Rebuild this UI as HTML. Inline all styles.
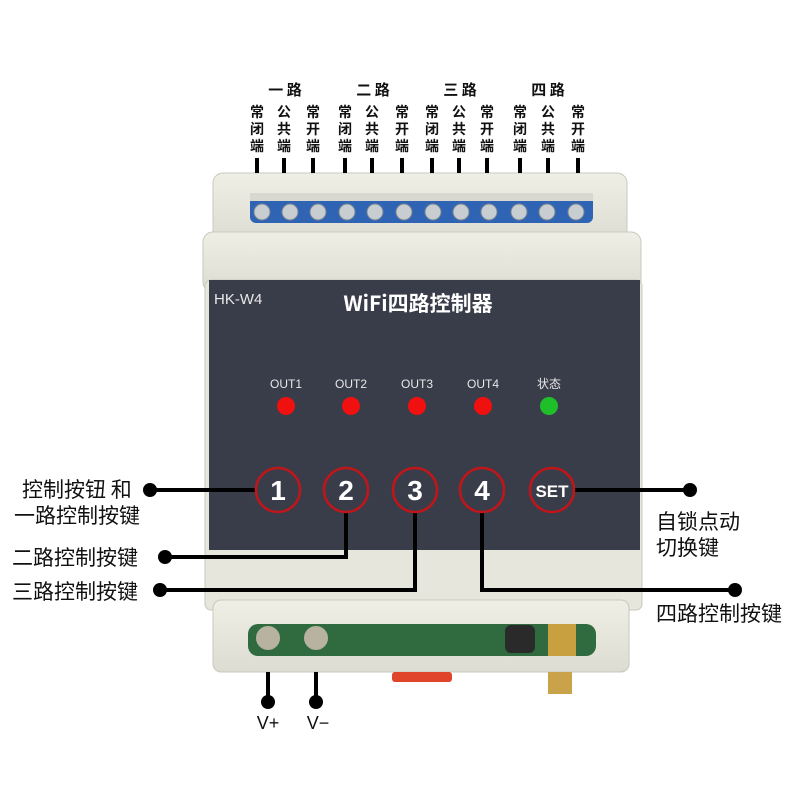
<!DOCTYPE html>
<html><head><meta charset="utf-8"><style>
body{margin:0;background:#fff;width:800px;height:800px;overflow:hidden;font-family:"Liberation Sans","Noto Sans CJK SC",sans-serif}
svg{display:block}
.cj{font-family:"Noto Sans CJK SC","WenQuanYi Zen Hei",sans-serif}
</style></head><body>
<svg width="800" height="800" viewBox="0 0 800 800" xmlns="http://www.w3.org/2000/svg">
<defs>
<linearGradient id="g" x1="0" y1="0" x2="0" y2="1"><stop offset="0" stop-color="#efefe6"/><stop offset="1" stop-color="#dcdcd2"/></linearGradient>
</defs>
<rect x="213" y="173" width="414" height="70" rx="10" fill="url(#g)" stroke="#c8c8be"/>
<rect x="250" y="193" width="343" height="30" rx="6" fill="#2f64b4"/>
<rect x="250" y="193" width="343" height="8" fill="#d8d8d0"/>
<g fill="#c8cdd2" stroke="#7b8692">
<circle cx="262" cy="212" r="8"/><circle cx="290" cy="212" r="8"/><circle cx="318" cy="212" r="8"/><circle cx="347" cy="212" r="8"/><circle cx="375" cy="212" r="8"/><circle cx="404" cy="212" r="8"/><circle cx="433" cy="212" r="8"/><circle cx="461" cy="212" r="8"/><circle cx="489" cy="212" r="8"/><circle cx="519" cy="212" r="8"/><circle cx="547" cy="212" r="8"/><circle cx="576" cy="212" r="8"/>
</g>
<rect x="203" y="232" width="438" height="60" rx="10" fill="url(#g)" stroke="#c8c8be"/>
<rect x="205" y="280" width="437" height="330" rx="6" fill="#e6e6dc" stroke="#c8c8be"/>
<rect x="209" y="280" width="431" height="270" fill="#393c49"/>
<rect x="213" y="600" width="416" height="72" rx="8" fill="url(#g)" stroke="#c8c8be"/>
<rect x="248" y="624" width="348" height="32" rx="10" fill="#2f6b3e"/>
<circle cx="268" cy="638" r="12" fill="#b8b2a0"/><circle cx="316" cy="638" r="12" fill="#b8b2a0"/>
<rect x="505" y="625" width="30" height="28" rx="6" fill="#2a2a2a"/>
<rect x="548" y="624" width="28" height="32" fill="#c8a040"/>
<rect x="548" y="672" width="24" height="22" fill="#c9a24a"/>
<rect x="392" y="672" width="60" height="10" rx="3" fill="#e0442a"/>
<g class="cj" font-size="15" font-weight="bold" fill="#111" text-anchor="middle">
<text x="285" y="95">一 路</text><text x="373" y="95">二 路</text><text x="460" y="95">三 路</text><text x="548" y="95">四 路</text>
</g>
<g class="cj" font-size="14" font-weight="bold" fill="#111" text-anchor="middle">
<text x="257" y="117">常</text><text x="257" y="134">闭</text><text x="257" y="151">端</text>
<text x="284" y="117">公</text><text x="284" y="134">共</text><text x="284" y="151">端</text>
<text x="313" y="117">常</text><text x="313" y="134">开</text><text x="313" y="151">端</text>
<text x="345" y="117">常</text><text x="345" y="134">闭</text><text x="345" y="151">端</text>
<text x="372" y="117">公</text><text x="372" y="134">共</text><text x="372" y="151">端</text>
<text x="402" y="117">常</text><text x="402" y="134">开</text><text x="402" y="151">端</text>
<text x="432" y="117">常</text><text x="432" y="134">闭</text><text x="432" y="151">端</text>
<text x="459" y="117">公</text><text x="459" y="134">共</text><text x="459" y="151">端</text>
<text x="487" y="117">常</text><text x="487" y="134">开</text><text x="487" y="151">端</text>
<text x="520" y="117">常</text><text x="520" y="134">闭</text><text x="520" y="151">端</text>
<text x="548" y="117">公</text><text x="548" y="134">共</text><text x="548" y="151">端</text>
<text x="578" y="117">常</text><text x="578" y="134">开</text><text x="578" y="151">端</text>
</g>
<g stroke="#000" stroke-width="4">
<line x1="257" y1="158" x2="257" y2="173"/><line x1="284" y1="158" x2="284" y2="173"/><line x1="313" y1="158" x2="313" y2="173"/>
<line x1="345" y1="158" x2="345" y2="173"/><line x1="372" y1="158" x2="372" y2="173"/><line x1="402" y1="158" x2="402" y2="173"/>
<line x1="432" y1="158" x2="432" y2="173"/><line x1="459" y1="158" x2="459" y2="173"/><line x1="487" y1="158" x2="487" y2="173"/>
<line x1="520" y1="158" x2="520" y2="173"/><line x1="548" y1="158" x2="548" y2="173"/><line x1="578" y1="158" x2="578" y2="173"/>
</g>
<text x="214" y="304" font-size="15" fill="#e8e8e8">HK-W4</text>
<text x="418" y="311" font-size="21" font-weight="bold" fill="#fff" text-anchor="middle" class="cj">WiFi四路控制器</text>
<g font-size="12" fill="#e8e8e8" text-anchor="middle">
<text x="286" y="388">OUT1</text><text x="351" y="388">OUT2</text><text x="417" y="388">OUT3</text><text x="483" y="388">OUT4</text><text x="549" y="388" class="cj">状态</text>
</g>
<g fill="#f01010"><circle cx="286" cy="406" r="9"/><circle cx="351" cy="406" r="9"/><circle cx="417" cy="406" r="9"/><circle cx="483" cy="406" r="9"/></g>
<circle cx="549" cy="406" r="9" fill="#1fbf2a"/>
<g stroke="#000" stroke-width="4" fill="none">
<polyline points="150,490 256,490"/>
<polyline points="346,512 346,557 165,557"/>
<polyline points="415,512 415,590 160,590"/>
<polyline points="482,512 482,590 735,590"/>
<polyline points="574,490 690,490"/>
<line x1="268" y1="672" x2="268" y2="700"/><line x1="316" y1="672" x2="316" y2="700"/>
</g>
<g fill="#000">
<circle cx="150" cy="490" r="7"/><circle cx="165" cy="557" r="7"/><circle cx="160" cy="590" r="7"/><circle cx="735" cy="590" r="7"/><circle cx="690" cy="490" r="7"/>
<circle cx="268" cy="702" r="7"/><circle cx="316" cy="702" r="7"/>
</g>
<g fill="#393c49" stroke="#c0161a" stroke-width="2.5">
<circle cx="278" cy="490" r="22"/><circle cx="346" cy="490" r="22"/><circle cx="415" cy="490" r="22"/><circle cx="482" cy="490" r="22"/><circle cx="552" cy="490" r="22"/>
</g>
<g fill="#fff" font-size="28" font-weight="bold" text-anchor="middle">
<text x="278" y="500">1</text><text x="346" y="500">2</text><text x="415" y="500">3</text><text x="482" y="500">4</text>
<text x="552" y="497" font-size="17">SET</text>
</g>
<g class="cj" font-size="21" fill="#111">
<text x="22" y="497">控制按钮 和</text>
<text x="14" y="523">一路控制按键</text>
<text x="12" y="565">二路控制按键</text>
<text x="12" y="599">三路控制按键</text>
<text x="656" y="529">自锁点动</text>
<text x="656" y="555">切换键</text>
<text x="656" y="621">四路控制按键</text>
</g>
<g font-size="18" fill="#111" text-anchor="middle"><text x="268" y="729">V+</text><text x="318" y="729">V−</text></g>
</svg>
</body></html>
